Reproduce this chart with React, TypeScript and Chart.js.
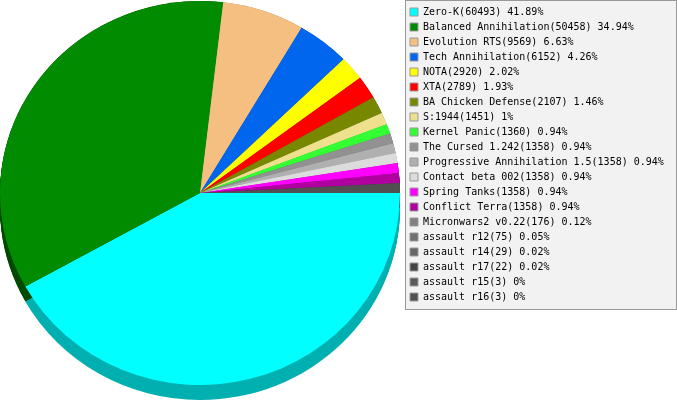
import React, { useEffect, useRef } from "react";
import { Chart, registerables } from "chart.js";

Chart.register(...registerables);

const names = ["Zero-K","Balanced Annihilation","Evolution RTS","Tech Annihilation","NOTA","XTA","BA Chicken Defense","S:1944","Kernel Panic","The Cursed 1.242","Progressive Annihilation 1.5","Contact beta 002","Spring Tanks","Conflict Terra","Micronwars2 v0.22","assault r12","assault r14","assault r17","assault r15","assault r16"];
// Numbers printed in the legend
const values = [60493,50458,9569,6152,2920,2789,2107,1451,1360,1358,1358,1358,1358,1358,176,75,29,22,3,3];
const percents = ["41.89","34.94","6.63","4.26","2.02","1.93","1.46","1","0.94","0.94","0.94","0.94","0.94","0.94","0.12","0.05","0.02","0.02","0","0"];
// Slice sizes as drawn in the picture: the small slices are narrower than their legend value, the tail shows as one slice
const sliceSizes = [60493,50458,9569,6152,2920,2789,2107,1451,1204,1204,1204,1204,1204,1204,0,0,0,0,0,1204];
const colors = ["#00ffff","#008b00","#f4bf80","#0066ee","#ffff00","#ff0000","#778800","#eee08c","#33ff33","#919191","#b0b0b0","#dcdcdc","#ff00ff","#b000a0","#808080","#707070","#666666","#444444","#5a5a5a","#505050"];
const sideColors = ["#00b0b0","#004b00","#aa8559","#0047a6","#b2b200","#b20000","#535f00","#a69c62","#23b223","#656565","#7b7b7b","#9a9a9a","#b200b2","#7b0070","#595959","#4e4e4e","#474747","#2f2f2f","#3e3e3e","#383838"];

const CX = 200, CY = 193, RX = 200, RY = 192, DEPTH = 15;

const pie3d = {
  id: "pie3d",
  afterLayout(chart: any) {
    const l = chart.legend;
    const h = l.bottom - l.top;
    const w = l.right - l.left;
    l.left = 405;
    l.right = l.left + w;
    l.top = 2;
    l.bottom = l.top + h;
  },
  beforeDraw(chart: any) {
    const ctx = chart.ctx;
    ctx.save();
    ctx.fillStyle = "#f2f2f2";
    ctx.strokeStyle = "#999999";
    ctx.lineWidth = 1;
    ctx.fillRect(405.5, 0.5, 271, 309);
    ctx.strokeRect(405.5, 0.5, 271, 309);
    ctx.restore();
  },
  beforeDatasetsDraw(chart: any) {
    const ctx = chart.ctx;
    const arcs = chart.getDatasetMeta(0).data;
    const r = arcs[0].outerRadius;
    ctx.save();
    arcs.forEach((a: any, i: number) => {
      if (a.endAngle <= a.startAngle) return;
      ctx.fillStyle = sideColors[i];
      for (let d = DEPTH; d >= 0; d--) {
        ctx.beginPath();
        ctx.ellipse(CX, CY + d, RX, RY, 0, a.startAngle, a.endAngle);
        ctx.lineTo(CX, CY + d);
        ctx.closePath();
        ctx.fill();
      }
    });
    ctx.translate(CX, CY);
    ctx.scale(RX / r, RY / r);
    ctx.translate(-arcs[0].x, -arcs[0].y);
  },
  afterDatasetsDraw(chart: any) {
    chart.ctx.restore();
  },
};

export default function App() {
  const ref = useRef<HTMLCanvasElement>(null);
  useEffect(() => {
    document.body.style.margin = "0";
    const chart = new Chart(ref.current!, {
      type: "pie",
      data: {
        labels: names,
        datasets: [{ data: sliceSizes, backgroundColor: colors, borderWidth: 0 }],
      },
      options: {
        responsive: false,
        animation: false,
        rotation: 90,
        layout: { padding: 0 },
        plugins: {
          tooltip: { enabled: false },
          legend: {
            position: "right",
            align: "start",
            maxWidth: 277,
            labels: {
              boxWidth: 8,
              boxHeight: 8,
              padding: 5,
              color: "#000000",
              font: { family: "'DejaVu Sans Mono'", size: 10 },
              generateLabels: () =>
                names.map((n, i) => ({
                  text: `${n}(${values[i]}) ${percents[i]}%`,
                  fillStyle: colors[i],
                  strokeStyle: "#999999",
                  lineWidth: 1,
                  index: i,
                  hidden: false,
                })),
            },
          },
        },
      },
      plugins: [pie3d],
    });
    return () => chart.destroy();
  }, []);
  return <canvas ref={ref} width={677} height={400} style={{ display: "block" }} />;
}
